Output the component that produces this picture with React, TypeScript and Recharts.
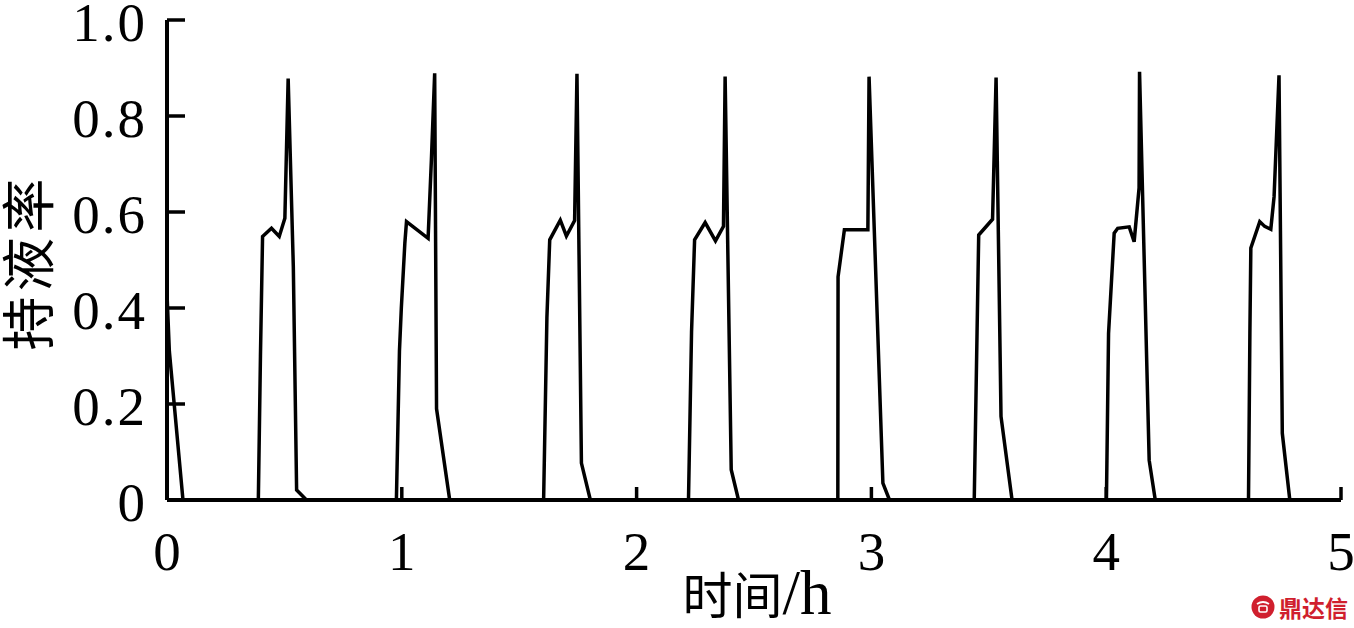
import { Label, Line, LineChart, XAxis, YAxis } from "recharts";

// time (h), liquid holdup
const xTicks = [0, 1, 2, 3, 4, 5];
const yTicks = [0, 0.2, 0.4, 0.6, 0.8, 1.0];
const yTickLabels = ["0", "0.2", "0.4", "0.6", "0.8", "1.0"];

const startDrain = [[0, 0.43], [0.01, 0.31], [0.068, 0]];
const slug1 = [[0.389, 0], [0.398, 0.3], [0.407, 0.549], [0.445, 0.566], [0.478, 0.549], [0.502, 0.587], [0.516, 0.878], [0.538, 0.486], [0.552, 0.021], [0.594, 0]];
const slug2 = [[0.977, 0], [0.99, 0.31], [0.998, 0.4], [1.013, 0.535], [1.02, 0.58], [1.112, 0.545], [1.126, 0.708], [1.14, 0.889], [1.148, 0.19], [1.204, 0]];
const slug3 = [[1.604, 0], [1.618, 0.38], [1.63, 0.542], [1.675, 0.583], [1.701, 0.55], [1.736, 0.582], [1.746, 0.888], [1.765, 0.077], [1.803, 0]];
const slug4 = [[2.221, 0], [2.234, 0.35], [2.247, 0.542], [2.292, 0.578], [2.336, 0.54], [2.37, 0.57], [2.377, 0.882], [2.403, 0.063], [2.434, 0]];
const slug5 = [[2.857, 0], [2.858, 0.465], [2.885, 0.563], [2.985, 0.563], [2.99, 0.882], [3.049, 0.035], [3.077, 0]];
const slug6 = [[3.438, 0], [3.45, 0.35], [3.457, 0.552], [3.516, 0.585], [3.531, 0.88], [3.552, 0.174], [3.599, 0]];
const slug7 = [[4.001, 0], [4.01, 0.347], [4.034, 0.556], [4.049, 0.566], [4.098, 0.569], [4.119, 0.538], [4.14, 0.65], [4.142, 0.892], [4.183, 0.083], [4.209, 0]];
const slug8 = [[4.606, 0], [4.612, 0.35], [4.616, 0.525], [4.654, 0.58], [4.675, 0.57], [4.701, 0.564], [4.715, 0.632], [4.736, 0.885], [4.75, 0.139], [4.782, 0]];
const tail = [[5, 0]];

const data = [startDrain, slug1, slug2, slug3, slug4, slug5, slug6, slug7, slug8, tail]
  .flat()
  .map(([t, y]) => ({ t, y }));

const serif = "'Liberation Serif', 'Times New Roman', serif";
const cjk = "'Noto Sans CJK SC', sans-serif";

function YTick(props: any) {
  const { x, y, payload } = props;
  const i = yTicks.indexOf(payload.value);
  return (
    <g>
      <line x1={x} x2={x + 18} y1={y} y2={y} stroke="#000" strokeWidth={3.5} />
      <text x={x - 20} y={y + 21} textAnchor="end" fontFamily={serif} fontSize={55} letterSpacing={2} fill="#000">
        {yTickLabels[i] ?? payload.value}
      </text>
    </g>
  );
}

function XTick(props: any) {
  const { x, y, payload } = props;
  return (
    <g>
      <line x1={x} x2={x} y1={y} y2={y - 13} stroke="#000" strokeWidth={3.5} />
      <text x={x} y={y + 70} textAnchor="middle" fontFamily={serif} fontSize={55} fill="#000">
        {payload.value}
      </text>
    </g>
  );
}

const xLabel = () => (
  <text x={757} y={614} textAnchor="middle" fill="#000">
    <tspan fontFamily={cjk} fontSize={50}>时间</tspan>
    <tspan fontFamily={serif} fontSize={63}>/h</tspan>
  </text>
);

const yLabel = () => (
  <text x={49} y={262} transform="rotate(-90 49 262)" textAnchor="middle" fontFamily={cjk} fontSize={54} letterSpacing={5} fill="#000">
    持液率
  </text>
);

export default function App() {
  return (
    <div style={{ position: "absolute", left: 0, top: 0, width: 1354, height: 628, background: "#fff" }}>
      <LineChart width={1354} height={628} data={data} margin={{ top: 20, right: 13, bottom: 0, left: 0 }}>
        <XAxis
          dataKey="t"
          type="number"
          domain={[0, 5]}
          ticks={xTicks}
          interval={0}
          height={128}
          tickSize={0}
          tickMargin={0}
          tickLine={false}
          tick={<XTick />}
          axisLine={{ stroke: "#000", strokeWidth: 4 }}
        >
          <Label content={xLabel} />
        </XAxis>
        <YAxis
          type="number"
          domain={[0, 1]}
          ticks={yTicks}
          interval={0}
          width={167}
          tickSize={0}
          tickMargin={0}
          tickLine={false}
          tick={<YTick />}
          axisLine={{ stroke: "#000", strokeWidth: 4 }}
        >
          <Label content={yLabel} />
        </YAxis>
        <Line
          type="linear"
          dataKey="y"
          stroke="#000"
          strokeWidth={3.5}
          dot={false}
          activeDot={false}
          isAnimationActive={false}
        />
      </LineChart>
      <div
        style={{
          position: "absolute",
          left: 1251,
          top: 590,
          display: "flex",
          alignItems: "center",
          gap: 4,
          color: "#d01f2e",
          fontFamily: cjk,
          fontWeight: 700,
          fontSize: 23,
        }}
      >
        <svg width={24} height={24} viewBox="0 0 24 24">
          <circle cx={12} cy={12} r={11.5} fill="#d01f2e" />
          <path d="M6 9 Q12 5 18 9" stroke="#fff" strokeWidth={1.8} fill="none" />
          <rect x={8} y={11} width={8} height={6} rx={1.5} stroke="#fff" strokeWidth={1.6} fill="none" />
        </svg>
        <span>鼎达信</span>
      </div>
    </div>
  );
}
